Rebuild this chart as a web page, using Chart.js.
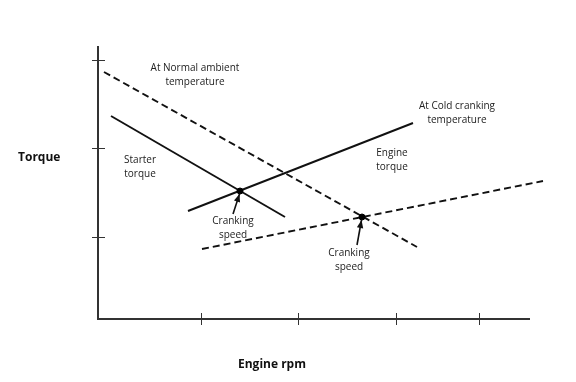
<!DOCTYPE html>
<html>
<head>
<meta charset="utf-8">
<script src="https://cdn.jsdelivr.net/npm/chart.js@4"></script>
<style>
  html, body { margin: 0; padding: 0; background: #fff; }
  #wrap { width: 576px; height: 382px; }
</style>
</head>
<body>
<div id="wrap"><canvas id="c" width="576" height="382"></canvas></div>
<script>
// torque vs engine rpm sketch, arbitrary units
const normalEngineTorque = [{x: 0.6, y: 24.7}, {x: 31.9, y: 7.2}];   // dashed, falling
const starterTorque      = [{x: 1.3, y: 20.3}, {x: 18.7, y: 10.2}];  // solid, falling
const coldEngineTorque   = [{x: 9.0, y: 10.8}, {x: 31.5, y: 19.6}];  // solid, rising
const coldStarterTorque  = [{x: 10.4, y: 7.0}, {x: 44.5, y: 13.8}];  // dashed, rising
const crankingPoints     = [{x: 14.2, y: 12.8}, {x: 26.4, y: 10.2}];
const arrowNormal        = [{x: 13.5, y: 10.5}, {x: 14.15, y: 12.5}];
const arrowCold          = [{x: 25.9, y: 7.4}, {x: 26.35, y: 9.9}];

const xTicks = [10.3, 20.0, 29.8, 38.1];
const yTicks = [8.2, 17.1, 25.9];
const xMax = 43.2, yMax = 27.3;

const noteLines = [
  ['At Normal ambient', 'temperature'],
  ['Starter', 'torque'],
  ['At Cold cranking', 'temperature'],
  ['Engine', 'torque'],
  ['Cranking', 'speed'],
  ['Cranking', 'speed']
];
const noteAt = [[9.7, 25.1], [4.2, 15.9], [35.9, 21.3], [29.4, 16.6], [13.5, 9.8], [25.1, 6.6]];

const INK = '#111';

const sketchAxes = {
  id: 'sketchAxes',
  afterDatasetsDraw(chart) {
    const {ctx, chartArea: a, scales: {x, y}} = chart;
    ctx.save();
    ctx.strokeStyle = '#333';
    ctx.lineWidth = 2;
    ctx.beginPath();
    ctx.moveTo(a.left, a.top); ctx.lineTo(a.left, a.bottom); ctx.lineTo(a.right, a.bottom);
    ctx.stroke();
    ctx.lineWidth = 1;
    xTicks.forEach(v => {
      const px = Math.round(x.getPixelForValue(v)) + 0.5;
      ctx.beginPath(); ctx.moveTo(px, a.bottom - 6); ctx.lineTo(px, a.bottom + 6); ctx.stroke();
    });
    yTicks.forEach(v => {
      const py = Math.round(y.getPixelForValue(v)) + 0.5;
      ctx.beginPath(); ctx.moveTo(a.left - 6, py); ctx.lineTo(a.left + 7, py); ctx.stroke();
    });

    // arrow heads on the arrow datasets
    ctx.fillStyle = INK;
    chart.data.datasets.forEach((ds, i) => {
      if (!ds.arrow) return;
      const pts = chart.getDatasetMeta(i).data;
      const p0 = pts[pts.length - 2], p1 = pts[pts.length - 1];
      const ang = Math.atan2(p1.y - p0.y, p1.x - p0.x);
      ctx.save();
      ctx.translate(p1.x, p1.y); ctx.rotate(ang);
      ctx.beginPath(); ctx.moveTo(0, 0); ctx.lineTo(-8, -3.2); ctx.lineTo(-8, 3.2); ctx.closePath();
      ctx.fill();
      ctx.restore();
    });

    // notes
    ctx.fillStyle = '#222';
    ctx.font = '10px "Open Sans", sans-serif';
    ctx.textAlign = 'center';
    ctx.textBaseline = 'middle';
    noteLines.forEach((lines, i) => {
      const cx = x.getPixelForValue(noteAt[i][0]);
      const cy = y.getPixelForValue(noteAt[i][1]);
      lines.forEach((t, j) => ctx.fillText(t, cx, cy + j * 14.5));
    });

    // axis titles
    ctx.fillStyle = '#111';
    ctx.font = 'bold 12px "Open Sans", sans-serif';
    ctx.textAlign = 'left';
    ctx.fillText('Torque', 18, 158);
    ctx.textAlign = 'center';
    ctx.fillText('Engine rpm', 272, 365);
    ctx.restore();
  }
};

const line = (data, dashed) => ({
  data, showLine: true, borderColor: INK, borderWidth: 1.9,
  borderDash: dashed ? [7, 4] : [], pointRadius: 0, clip: false, order: 2
});

new Chart(document.getElementById('c'), {
  type: 'scatter',
  data: {
    datasets: [
      line(normalEngineTorque, true),
      line(starterTorque, false),
      line(coldEngineTorque, false),
      line(coldStarterTorque, true),
      Object.assign(line(arrowNormal, false), {borderWidth: 1.6, arrow: true}),
      Object.assign(line(arrowCold, false), {borderWidth: 1.6, arrow: true}),
      {data: crankingPoints, pointRadius: 3, backgroundColor: '#000', borderColor: '#000', order: 1}
    ]
  },
  options: {
    responsive: false,
    animation: false,
    events: [],
    layout: {padding: {left: 98, top: 46, right: 46, bottom: 63}},
    plugins: {legend: {display: false}, tooltip: {enabled: false}},
    scales: {
      x: {type: 'linear', min: 0, max: xMax, display: false},
      y: {type: 'linear', min: 0, max: yMax, display: false}
    }
  },
  plugins: [sketchAxes]
});
</script>
</body>
</html>
